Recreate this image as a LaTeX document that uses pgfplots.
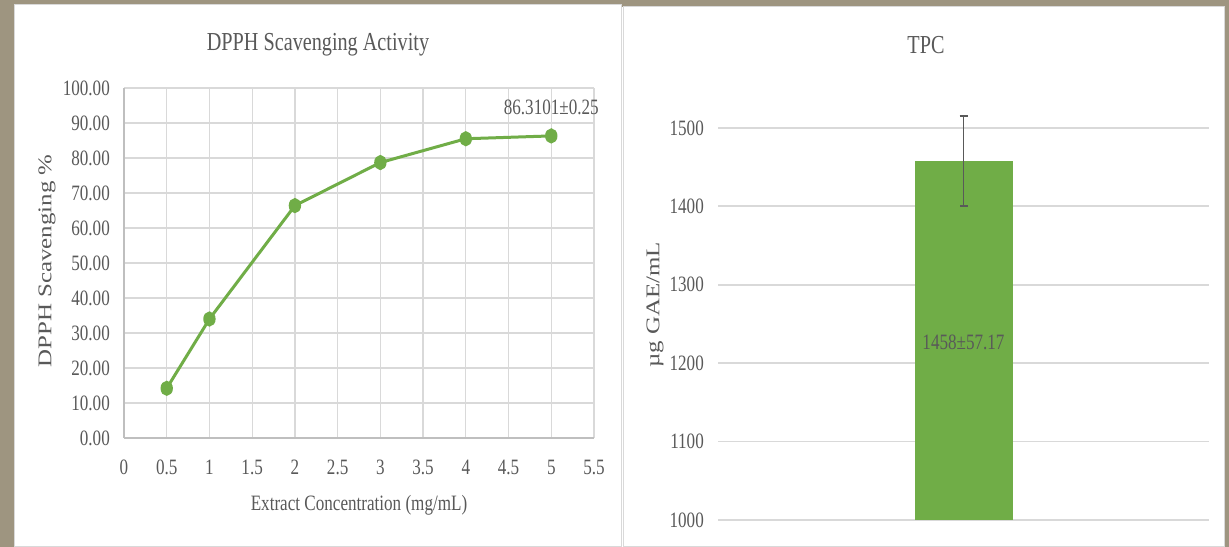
\documentclass[border=0pt]{standalone}
\usepackage{pgfplots}
\pgfplotsset{compat=1.18}
\usepackage{fontspec}
\setmainfont{Liberation Serif}
\newfontfamily\cf[FakeStretch=0.78]{Liberation Serif}
\definecolor{bg}{HTML}{9E9580}
\definecolor{grn}{HTML}{70AD47}
\definecolor{gridc}{HTML}{D9D9D9}
\definecolor{axc}{HTML}{BFBFBF}
\definecolor{txt}{HTML}{595959}
\begin{document}
\begin{tikzpicture}
\useasboundingbox (0,0) rectangle (1229bp,547bp);
\fill[bg] (0,0) rectangle (1229bp,547bp);
\fill[white] (14bp,0bp) rectangle (1224bp,540bp);
\filldraw[fill=white,draw=gridc,line width=1bp] (14bp,1bp) rectangle (621bp,542bp);
\filldraw[fill=white,draw=gridc,line width=1bp] (623bp,1bp) rectangle (1224bp,540bp);

\begin{axis}[
  at={(124bp,109bp)}, anchor=south west, scale only axis,
  width=470bp, height=350bp,
  xmin=0, xmax=5.5, ymin=0, ymax=100,
  xtick={0,0.5,1,1.5,2,2.5,3,3.5,4,4.5,5,5.5},
  xticklabels={0,0.5,1,1.5,2,2.5,3,3.5,4,4.5,5,5.5},
  ytick={0,10,20,30,40,50,60,70,80,90,100},
  yticklabels={0.00,10.00,20.00,30.00,40.00,50.00,60.00,70.00,80.00,90.00,100.00},
  grid=major, grid style={gridc, line width=1.2bp},
  axis lines=left, axis line style={axc, line width=1.5bp, -},
  major tick length=0pt,
  tick label style={font=\cf\fontsize{22}{24}\selectfont, text=txt, inner sep=0pt},
  yticklabel style={xshift=-14bp},
  xticklabel style={yshift=-22bp},
  clip=false]
\addplot[grn, line width=3bp, mark=*, mark size=6bp,
  mark options={xscale=0.78, fill=grn, draw=grn}]
  coordinates {(0.5,14.2) (1,34.0) (2,66.4) (3,78.7) (4,85.5) (5,86.31)};
\node[font=\cf\fontsize{22}{24}\selectfont, text=txt] at (axis cs:5,94.6) {86.3101±0.25};
\end{axis}

\begin{axis}[
  at={(718bp,27bp)}, anchor=south west, scale only axis,
  width=491bp, height=407.7bp,
  xmin=0, xmax=2, ymin=1000, ymax=1520,
  xtick=\empty,
  ytick={1000,1100,1200,1300,1400,1500},
  yticklabels={1000,1100,1200,1300,1400,1500},
  ymajorgrids, grid style={gridc, line width=1.8bp},
  axis line style={draw=none},
  major tick length=0pt,
  tick label style={font=\cf\fontsize{22}{24}\selectfont, text=txt, inner sep=0pt},
  yticklabel style={xshift=-14bp},
  ybar, bar width=98bp]
\addplot[fill=grn, draw=none,
  error bars/.cd, y dir=both, y explicit,
  error bar style={line width=1.6bp, color=txt},
  error mark options={rotate=90, mark size=4bp, line width=1.6bp, color=txt}]
  coordinates {(1,1458) +- (0,57.17)};
\node[font=\cf\fontsize{22}{24}\selectfont, text=txt] at (axis cs:1,1226) {1458±57.17};
\end{axis}

\node[font=\cf\fontsize{26}{28}\selectfont, text=txt] at (318bp,502bp) {DPPH Scavenging Activity};
\node[font=\cf\fontsize{26}{28}\selectfont, text=txt] at (926bp,502bp) {TPC};
\node[font=\cf\fontsize{22}{24}\selectfont, text=txt] at (359bp,42bp) {Extract Concentration (mg/mL)};
\node[text=txt, inner sep=0pt] at (47bp,286bp) {\scalebox{0.78}[1]{\rotatebox{90}{\fontsize{25}{27}\selectfont DPPH Scavenging \%}}};
\node[text=txt, inner sep=0pt] at (655bp,242bp) {\scalebox{0.78}[1]{\rotatebox{90}{\fontsize{25}{27}\selectfont µg GAE/mL}}};
\end{tikzpicture}
\end{document}
